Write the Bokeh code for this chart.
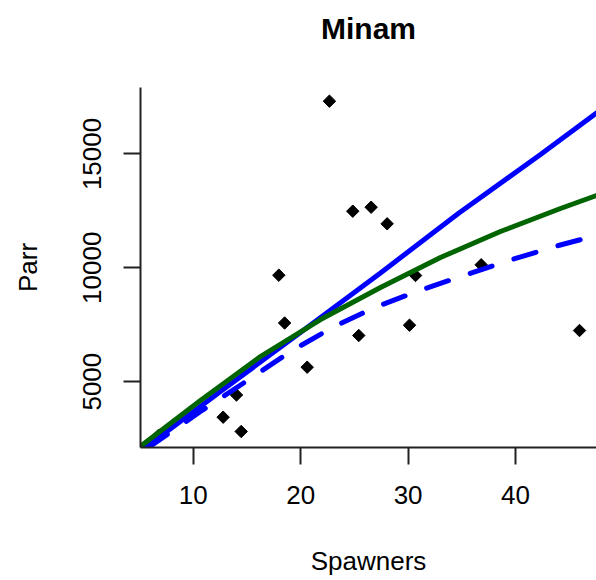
import numpy as np
from bokeh.plotting import figure
from bokeh.models import FixedTicker, Title
from bokeh.embed import file_html
from bokeh.resources import INLINE

# Observed data (Spawners vs Parr)
spawners = [6.77, 12.79, 14.03, 14.47, 17.97, 18.51, 20.61, 22.68, 24.85, 25.41,
            26.56, 28.05, 30.13, 30.69, 36.80, 45.95]
parr = [2635, 3439, 4414, 2811, 9675, 7576, 5635, 17317, 12486, 7027,
        12661, 11932, 7479, 9662, 10132, 7246]

# Fitted curves
blue_solid_x = [5.56, 12.54, 19.98, 27.43, 34.67, 42.32, 47.53]
blue_solid_y = [2108, 4567, 7159, 9772, 12385, 14976, 16798]

green_x = [5.08, 10.68, 16.26, 21.85, 27.43, 33.01, 38.59, 44.18, 47.53]
green_y = [2152, 4172, 6104, 7729, 9135, 10452, 11594, 12604, 13175]

blue_dash_x = [5.84, 10.68, 15.33, 19.05, 23.01, 26.87, 31.06, 35.10, 39.53, 43.99, 47.53]
blue_dash_y = [2108, 3689, 5138, 6324, 7391, 8256, 9003, 9649, 10343, 10979, 11419]

x_ticks = [10, 20, 30, 40]
y_ticks = [5000, 10000, 15000]

FONT = "Liberation Sans"

p = figure(width=596, height=580, x_range=(5.1, 47.53), y_range=(2108, 17918),
           output_backend="svg", toolbar_location=None,
           min_border_left=140, min_border_right=0, min_border_top=87, min_border_bottom=133,
           title="Minam")
p.outline_line_color = None
p.xgrid.visible = False
p.ygrid.visible = False
p.background_fill_color = "white"
p.border_fill_color = "white"

p.title.align = "center"
p.title.vertical_align = "bottom"
p.title.text_font = FONT
p.title.text_font_size = "30px"
p.title.text_font_style = "bold"
p.title.text_color = "black"

# empty spacer between the title and the plot frame
p.add_layout(Title(text=" ", text_font_size="23.5px", standoff=10), "above")

for ax in (p.xaxis[0], p.yaxis[0]):
    ax.axis_line_color = "#222222"
    ax.axis_line_width = 2
    ax.major_tick_line_color = "#222222"
    ax.major_tick_line_width = 2
    ax.major_tick_out = 17
    ax.major_tick_in = 0
    ax.minor_tick_line_color = None
    ax.major_label_text_font = FONT
    ax.major_label_text_font_size = "26px"
    ax.major_label_text_color = "black"
    ax.axis_label_text_font = FONT
    ax.axis_label_text_font_size = "26px"
    ax.axis_label_text_font_style = "normal"
    ax.axis_label_text_color = "black"

p.xaxis[0].ticker = FixedTicker(ticks=x_ticks)
p.yaxis[0].ticker = FixedTicker(ticks=y_ticks)
p.xaxis[0].axis_label = "Spawners"
p.yaxis[0].axis_label = "Parr"
p.yaxis[0].major_label_orientation = "parallel"
p.xaxis[0].major_label_standoff = 21
p.xaxis[0].axis_label_standoff = 39
p.yaxis[0].major_label_standoff = 22
p.yaxis[0].axis_label_standoff = 38

p.scatter(spawners, parr, marker="square", size=8.8, angle=np.pi / 4,
          fill_color="black", line_color="black")

p.line(blue_solid_x, blue_solid_y, line_color="#0000FF", line_width=5, line_cap="round")
p.line(blue_dash_x, blue_dash_y, line_color="#0000FF", line_width=5, line_cap="round",
       line_dash="23 23")
p.line(green_x, green_y, line_color="#006400", line_width=5, line_cap="round")

open("out.html", "w").write(file_html(p, INLINE))
